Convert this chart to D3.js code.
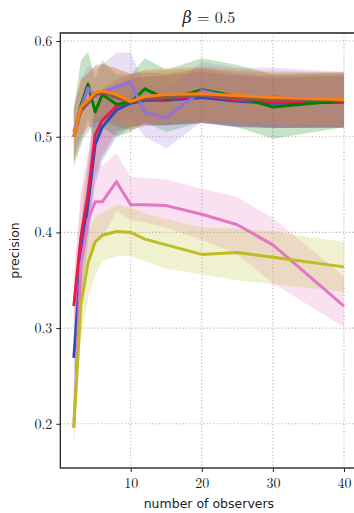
<!DOCTYPE html>
<html>
<head>
<meta charset="utf-8">
<script src="https://cdn.jsdelivr.net/npm/d3@7"></script>
<style>
  html, body { margin: 0; padding: 0; background: #fff; }
  svg { display: block; }
</style>
</head>
<body>
<svg id="chart" width="354" height="513"></svg>
<script>
// number of observers
const observers = [2, 3, 4, 5, 6, 8, 10, 12, 15, 20, 25, 30, 40];

// mean precision per method
const blueMean   = [0.269, 0.370, 0.430, 0.492, 0.510, 0.528, 0.535, 0.538, 0.538, 0.541, 0.537, 0.535, 0.536];
const redMean    = [0.323, 0.395, 0.440, 0.502, 0.517, 0.532, 0.537, 0.540, 0.539, 0.543, 0.538, 0.536, 0.537];
const pinkMean   = [0.196, 0.365, 0.413, 0.432, 0.432, 0.453, 0.429, 0.429, 0.428, 0.419, 0.408, 0.387, 0.323];
const oliveMean  = [0.196, 0.325, 0.368, 0.390, 0.397, 0.401, 0.400, 0.393, 0.387, 0.377, 0.379, 0.374, 0.364];
const greenMean  = [0.500, 0.533, 0.555, 0.526, 0.544, 0.534, 0.536, 0.550, 0.539, 0.549, 0.542, 0.531, 0.538];
const purpleMean = [0.505, 0.530, 0.551, 0.542, 0.547, 0.552, 0.557, 0.525, 0.520, 0.548, 0.540, 0.542, 0.538];
const brownMean  = [0.500, 0.527, 0.535, 0.544, 0.546, 0.541, 0.536, 0.540, 0.541, 0.543, 0.540, 0.538, 0.538];
const orangeMean = [0.500, 0.531, 0.538, 0.546, 0.548, 0.544, 0.537, 0.542, 0.544, 0.545, 0.543, 0.541, 0.539];

// spread bands (lower / upper) per method
const blueLow    = [0.244, 0.330, 0.390, 0.450, 0.475, 0.500, 0.510, 0.512, 0.512, 0.514, 0.510, 0.509, 0.509];
const blueHigh   = [0.300, 0.410, 0.470, 0.530, 0.545, 0.555, 0.560, 0.563, 0.564, 0.568, 0.564, 0.562, 0.563];
const redLow     = [0.300, 0.360, 0.400, 0.460, 0.480, 0.505, 0.510, 0.513, 0.512, 0.515, 0.511, 0.509, 0.510];
const redHigh    = [0.350, 0.440, 0.480, 0.540, 0.550, 0.560, 0.565, 0.567, 0.566, 0.571, 0.566, 0.564, 0.565];
const pinkLow    = [0.178, 0.330, 0.370, 0.390, 0.395, 0.422, 0.413, 0.410, 0.405, 0.392, 0.377, 0.347, 0.301];
const pinkHigh   = [0.212, 0.400, 0.450, 0.470, 0.470, 0.483, 0.458, 0.457, 0.455, 0.446, 0.437, 0.415, 0.354];
const oliveLow   = [0.175, 0.290, 0.330, 0.355, 0.370, 0.375, 0.375, 0.370, 0.362, 0.356, 0.350, 0.346, 0.338];
const oliveHigh  = [0.215, 0.360, 0.400, 0.415, 0.420, 0.429, 0.426, 0.420, 0.414, 0.405, 0.404, 0.401, 0.390];
const greenLow   = [0.470, 0.490, 0.520, 0.490, 0.510, 0.500, 0.505, 0.515, 0.505, 0.515, 0.510, 0.498, 0.510];
const greenHigh  = [0.530, 0.580, 0.589, 0.560, 0.580, 0.565, 0.565, 0.582, 0.570, 0.582, 0.575, 0.565, 0.567];
const purpleLow  = [0.480, 0.500, 0.510, 0.510, 0.515, 0.515, 0.520, 0.500, 0.488, 0.515, 0.510, 0.510, 0.510];
const purpleHigh = [0.530, 0.560, 0.575, 0.570, 0.575, 0.588, 0.588, 0.555, 0.550, 0.578, 0.572, 0.572, 0.568];
const brownLow   = [0.474, 0.495, 0.505, 0.514, 0.516, 0.511, 0.507, 0.511, 0.512, 0.514, 0.511, 0.509, 0.509];
const brownHigh  = [0.531, 0.560, 0.566, 0.575, 0.576, 0.571, 0.566, 0.569, 0.570, 0.572, 0.569, 0.567, 0.567];
const orangeLow  = [0.475, 0.503, 0.510, 0.518, 0.520, 0.516, 0.509, 0.514, 0.516, 0.517, 0.515, 0.513, 0.511];
const orangeHigh = [0.528, 0.559, 0.566, 0.574, 0.576, 0.572, 0.565, 0.570, 0.572, 0.573, 0.571, 0.569, 0.567];

// axis ticks
const xTicks = [10, 20, 30, 40];
const yTicks = [0.2, 0.3, 0.4, 0.5, 0.6];

const series = [
  { color: "#2b4bb8", mean: blueMean,   low: blueLow,   high: blueHigh },
  { color: "#e6194b", mean: redMean,    low: redLow,    high: redHigh },
  { color: "#e377c2", mean: pinkMean,   low: pinkLow,   high: pinkHigh },
  { color: "#bcbd22", mean: oliveMean,  low: oliveLow,  high: oliveHigh },
  { color: "#008000", mean: greenMean,  low: greenLow,  high: greenHigh },
  { color: "#9370db", mean: purpleMean, low: purpleLow, high: purpleHigh },
  { color: "#8c564b", mean: brownMean,  low: brownLow,  high: brownHigh },
  { color: "#ff7f0e", mean: orangeMean, low: orangeLow, high: orangeHigh }
];

const plotLeft = 60.3, plotRight = 357.5, plotTop = 33, plotBottom = 468;
const serif = "'Latin Modern Roman', 'CMU Serif', 'DejaVu Serif', serif";
const sans = "'DejaVu Sans', sans-serif";

const x = d3.scaleLinear().domain([0.1, 41.9]).range([plotLeft, plotRight]);
const y = d3.scaleLinear().domain([0.1538, 0.6084]).range([plotBottom, plotTop]);

const svg = d3.select("#chart");

// clip everything data-related to the plotting area
svg.append("clipPath").attr("id", "plotclip")
  .append("rect").attr("x", plotLeft).attr("y", plotTop)
  .attr("width", plotRight - plotLeft).attr("height", plotBottom - plotTop);

// dotted grid
const grid = svg.append("g").attr("stroke", "#b5b5b5").attr("stroke-width", 1.1)
  .attr("stroke-dasharray", "1.2,2.2");
grid.selectAll("line.gx").data(xTicks).join("line").attr("class", "gx")
  .attr("x1", d => x(d)).attr("x2", d => x(d)).attr("y1", plotTop).attr("y2", plotBottom);
grid.selectAll("line.gy").data(yTicks).join("line").attr("class", "gy")
  .attr("x1", plotLeft).attr("x2", plotRight).attr("y1", d => y(d)).attr("y2", d => y(d));

const plot = svg.append("g").attr("clip-path", "url(#plotclip)");

const area = d3.area()
  .x((d, i) => x(observers[i]))
  .y0(d => y(d[0]))
  .y1(d => y(d[1]));
const line = d3.line()
  .x((d, i) => x(observers[i]))
  .y(d => y(d));

// shaded spread bands
series.forEach(s => {
  const band = s.low.map((v, i) => [v, s.high[i]]);
  plot.append("path").datum(band)
    .attr("d", area)
    .attr("fill", s.color)
    .attr("fill-opacity", 0.22)
    .attr("stroke", "none");
});

// mean lines
series.forEach(s => {
  plot.append("path").datum(s.mean)
    .attr("d", line)
    .attr("fill", "none")
    .attr("stroke", s.color)
    .attr("stroke-width", 3)
    .attr("stroke-linejoin", "round");
});

// axes
const xAxis = d3.axisBottom(x).tickValues(xTicks).tickFormat(d3.format("d"))
  .tickSize(4).tickPadding(6);
const yAxis = d3.axisLeft(y).tickValues(yTicks).tickFormat(d3.format(".1f"))
  .tickSize(4).tickPadding(4);

const gx = svg.append("g").attr("transform", `translate(0,${plotBottom})`).call(xAxis);
const gy = svg.append("g").attr("transform", `translate(${plotLeft},0)`).call(yAxis);
[gx, gy].forEach(g => {
  g.select(".domain").remove();
  g.selectAll(".tick line").attr("stroke", "#222").attr("stroke-width", 1);
  g.selectAll(".tick text").attr("fill", "#222")
    .attr("font-family", serif).attr("font-size", 14);
});

// spines
svg.append("line").attr("x1", plotLeft).attr("x2", plotLeft).attr("y1", plotTop).attr("y2", plotBottom)
  .attr("stroke", "#111").attr("stroke-width", 1.2);
svg.append("line").attr("x1", plotLeft - 0.6).attr("x2", plotRight).attr("y1", plotBottom).attr("y2", plotBottom)
  .attr("stroke", "#333").attr("stroke-width", 1.6);
svg.append("line").attr("x1", plotLeft - 0.6).attr("x2", plotRight).attr("y1", plotTop).attr("y2", plotTop)
  .attr("stroke", "#555").attr("stroke-width", 2);

// labels
svg.append("text").attr("x", (plotLeft + plotRight) / 2).attr("y", 508)
  .attr("text-anchor", "middle").attr("font-family", sans).attr("font-size", 12.5)
  .attr("fill", "#222").text("number of observers");

svg.append("text").attr("transform", `translate(19,${(plotTop + plotBottom) / 2}) rotate(-90)`)
  .attr("text-anchor", "middle").attr("font-family", sans).attr("font-size", 12.5)
  .attr("fill", "#222").text("precision");

const title = svg.append("text").attr("x", (plotLeft + plotRight) / 2).attr("y", 23)
  .attr("text-anchor", "middle").attr("font-family", serif).attr("font-size", 16)
  .attr("fill", "#222");
title.append("tspan").attr("font-style", "italic").text("β");
title.append("tspan").text(" = 0.5");
</script>
</body>
</html>
